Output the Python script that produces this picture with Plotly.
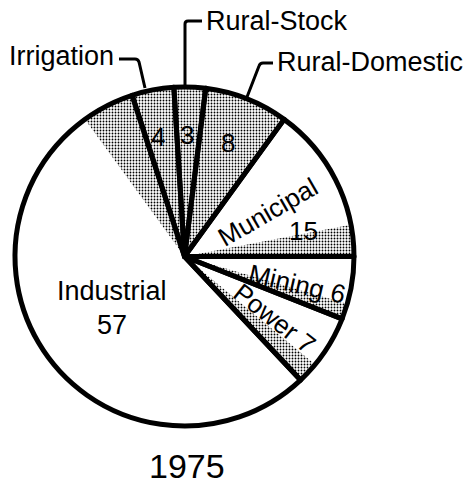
import plotly.graph_objects as go

# 1975 water withdrawals by use (percent); stippled part = consumed
uses = ["Irrigation", "Rural-Stock", "Rural-Domestic", "Municipal", "Mining", "Power", "Industrial"]
withdrawn = [4, 3, 8, 15, 6, 7, 57]
consumed = [4, 3, 8, 3, 1.5, 2, 5]
year = "1975"

W, H = 473, 486
FONT = "Liberation Sans, Arial, sans-serif"

# pie geometry in pixels
cx, cy, r = 184.5, 256.5, 169.5
dom_x = [(cx - r) / W, (cx + r) / W]
dom_y = [1 - (cy + r) / H, 1 - (cy - r) / H]
start = -18  # first slice (Irrigation) starts 18 deg left of 12 o'clock

# split each slice into a plain part and a stippled (consumed) part
sub_vals, sub_shape = [], []
for w, c in zip(withdrawn, consumed):
    if w - c > 0:
        sub_vals.append(w - c)
        sub_shape.append("")
    sub_vals.append(c)
    sub_shape.append(".")

fig = go.Figure()

fig.add_trace(go.Pie(
    values=sub_vals,
    sort=False,
    direction="clockwise",
    rotation=start,
    domain=dict(x=dom_x, y=dom_y),
    textinfo="none",
    hoverinfo="skip",
    showlegend=False,
    marker=dict(
        colors=["white"] * len(sub_vals),
        line=dict(width=0),
        pattern=dict(shape=sub_shape, fgcolor="black", bgcolor="white",
                     size=3, solidity=0.3, fillmode="replace"),
    ),
))

fig.add_trace(go.Pie(
    labels=uses,
    values=withdrawn,
    sort=False,
    direction="clockwise",
    rotation=start,
    domain=dict(x=dom_x, y=dom_y),
    textinfo="none",
    showlegend=False,
    marker=dict(colors=["rgba(0,0,0,0)"] * len(uses),
                line=dict(color="black", width=5)),
))

# text labels (pixel positions)
labels = [
    ("Irrigation", 116, 56, 0, "right", 27),
    ("Rural-Stock", 204, 21, 0, "left", 27),
    ("Rural-Domestic", 275, 62, 0, "left", 27),
    ("4", 158, 137, 0, "center", 26),
    ("3", 187, 135, 0, "center", 26),
    ("8", 228, 143, 0, "center", 26),
    ("Municipal", 268, 212, -30, "center", 26),
    ("15", 303, 231, 0, "center", 26),
    ("Mining 6", 297, 284, 13, "center", 26),
    ("Power 7", 274, 318, 38, "center", 26),
    ("Industrial", 112, 291, 0, "center", 27),
    ("57", 112, 325, 0, "center", 27),
    (year, 187, 466, 0, "center", 34),
]
for txt, x, y, ang, xa, fs in labels:
    fig.add_annotation(x=x, y=y, xref="x", yref="y", text=txt, showarrow=False,
                       textangle=ang, xanchor=xa, yanchor="middle",
                       font=dict(family=FONT, size=fs, color="black"))

# leader lines
leaders = [
    "M 145 88 L 139 62 Q 138 59 135 59 L 119 59",
    "M 185 87 L 185 24 Q 185 21 188 21 L 202 21",
    "M 247 97 L 259 66 Q 260 63 263 63 L 273 63",
]
for p in leaders:
    fig.add_shape(type="path", path=p, xref="x", yref="y",
                  line=dict(color="black", width=3), layer="above")

fig.update_xaxes(range=[0, W], visible=False, fixedrange=True)
fig.update_yaxes(range=[H, 0], visible=False, fixedrange=True)
fig.update_layout(
    width=W, height=H,
    margin=dict(l=0, r=0, t=0, b=0),
    plot_bgcolor="white",
    paper_bgcolor="white",
    font=dict(family=FONT, color="black"),
)

fig.write_html("out.html", config={"displayModeBar": False},
               post_script="document.body.style.margin='0';")
